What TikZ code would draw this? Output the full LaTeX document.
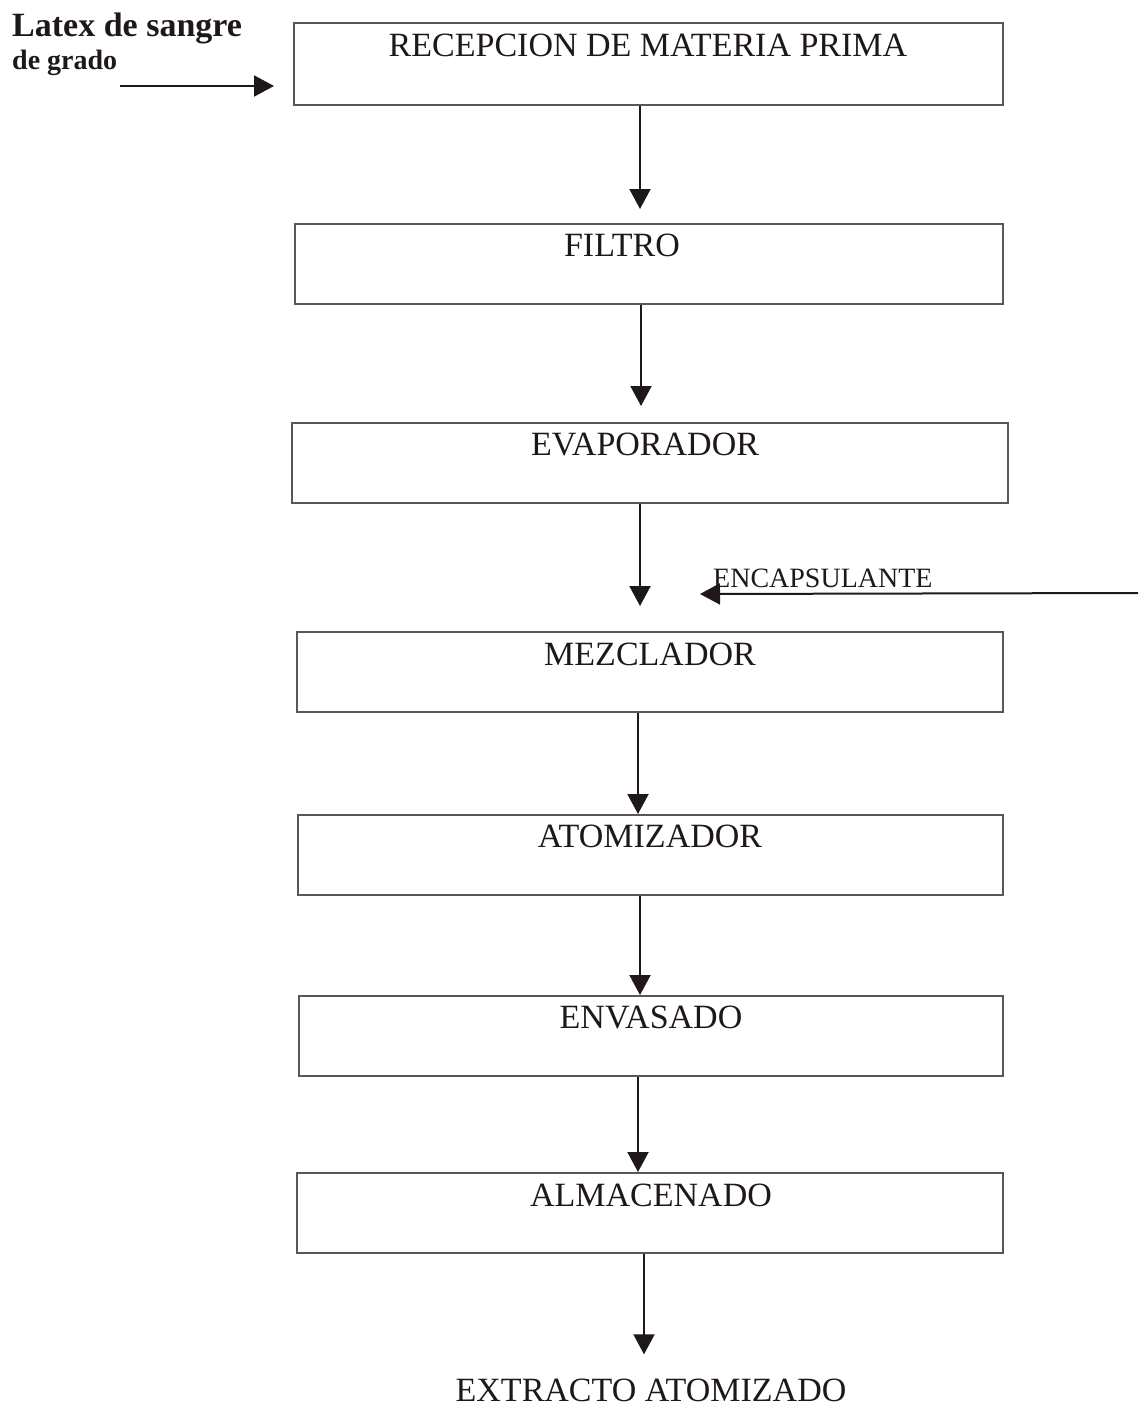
\documentclass[tikz,border=0pt]{standalone}
\usepackage{fontspec}
\setmainfont{Liberation Serif}
\usetikzlibrary{arrows.meta}
\definecolor{ink}{HTML}{1E181C}
\definecolor{frame}{HTML}{5E545B}
\tikzset{
  stage/.style={draw=frame, line width=2pt, inner sep=0pt, minimum height=80pt},
  caption/.style={text=ink, inner sep=0pt, anchor=base, font=\fontsize{34}{38}\selectfont},
  flow/.style={draw=ink, line width=2pt, -{Triangle[length=20pt,width=21pt]}},
}
\begin{document}
\begin{tikzpicture}[x=1pt, y=-1pt]
\useasboundingbox (0,0) rectangle (1138,1408);

% process stages
\node[stage, minimum width=709pt, minimum height=82pt] (b1) at (648.5,64) {};
\node[stage, minimum width=708pt] (b2) at (649,264) {};
\node[stage, minimum width=716pt] (b3) at (650,463) {};
\node[stage, minimum width=706pt] (b4) at (650,672) {};
\node[stage, minimum width=705pt] (b5) at (650.5,855) {};
\node[stage, minimum width=704pt] (b6) at (651,1036) {};
\node[stage, minimum width=706pt] (b7) at (650,1213) {};

% stage names
\node[caption] (t1) at (648,56) {RECEPCION DE MATERIA PRIMA};
\node[caption] (t2) at (622,256) {FILTRO};
\node[caption] (t3) at (645,455) {EVAPORADOR};
\node[caption] (t4) at (650,665) {MEZCLADOR};
\node[caption] (t5) at (650,847) {ATOMIZADOR};
\node[caption] (t6) at (651,1028) {ENVASADO};
\node[caption] (t7) at (651,1206) {ALMACENADO};
\node[caption] (t8) at (651,1401) {EXTRACTO ATOMIZADO};

% inputs
\node[text=ink, inner sep=0pt, anchor=base west, font=\bfseries\fontsize{34}{38}\selectfont] (in1) at (12,36) {Latex de sangre};
\node[text=ink, inner sep=0pt, anchor=base west, font=\bfseries\fontsize{28}{32}\selectfont] (in2) at (12,69) {de grado};
\node[text=ink, inner sep=0pt, anchor=base west, font=\fontsize{28}{32}\selectfont] (enc) at (713,587) {ENCAPSULANTE};
\coordinate (latexstart) at (120,86);
\coordinate (encstart) at (1138,593);
\coordinate (enctip) at (700,594);

% connectors
\draw[flow, shorten >=19pt] (latexstart) -- (latexstart -| b1.west);
\draw[flow, shorten >=14pt] (b1.south -| 640,0) -- (b2.north -| 640,0);
\draw[flow, shorten >=16pt] (b2.south -| 641,0) -- (b3.north -| 641,0);
\draw[flow, shorten >=25pt] (b3.south -| 640,0) -- (b4.north -| 640,0);
\draw[flow] (encstart) -- (enctip);
\draw[flow] (b4.south -| 638,0) -- (b5.north -| 638,0);
\draw[flow] (b5.south -| 640,0) -- (b6.north -| 640,0);
\draw[flow] (b6.south -| 638,0) -- (b7.north -| 638,0);
\draw[flow, shorten >=24pt] (b7.south -| 644,0) -- (t8.north -| 644,0);
\end{tikzpicture}
\end{document}
